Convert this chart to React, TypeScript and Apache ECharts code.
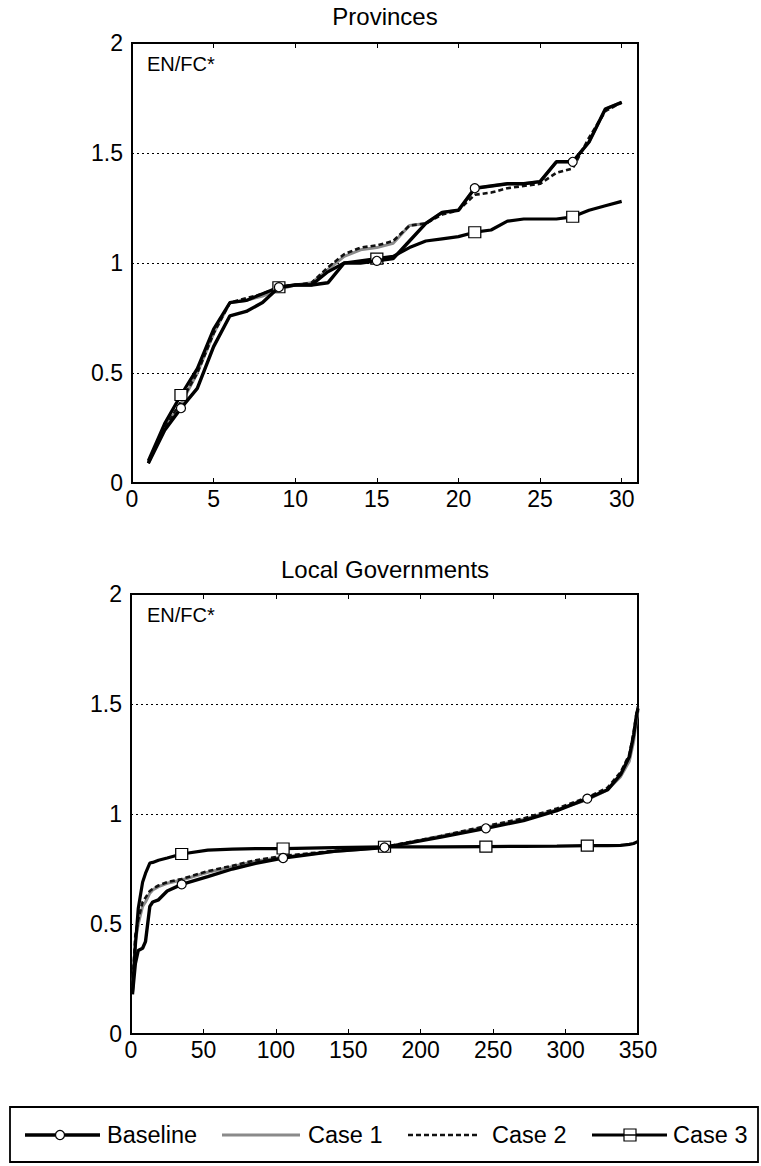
import React, { useEffect, useRef } from "react";
import * as echarts from "echarts";

// ---------- Data ----------
const provX = [1, 2, 3, 4, 5, 6, 7, 8, 9, 10, 11, 12, 13, 14, 15, 16, 17, 18, 19, 20, 21, 22, 23, 24, 25, 26, 27, 28, 29, 30];
const provBaseline = [0.09, 0.24, 0.34, 0.43, 0.62, 0.76, 0.78, 0.82, 0.89, 0.9, 0.9, 0.91, 1.0, 1.0, 1.01, 1.02, 1.1, 1.18, 1.23, 1.24, 1.34, 1.35, 1.36, 1.36, 1.37, 1.46, 1.46, 1.55, 1.7, 1.73];
const provCase1 = [0.09, 0.25, 0.36, 0.5, 0.68, 0.82, 0.83, 0.85, 0.88, 0.9, 0.91, 0.97, 1.03, 1.06, 1.07, 1.09, 1.17, 1.18, 1.23, 1.24, 1.34, 1.35, 1.36, 1.36, 1.37, 1.46, 1.46, 1.55, 1.7, 1.73];
const provCase2 = [0.09, 0.25, 0.37, 0.5, 0.68, 0.82, 0.84, 0.86, 0.89, 0.9, 0.91, 0.98, 1.04, 1.07, 1.08, 1.1, 1.17, 1.18, 1.22, 1.24, 1.31, 1.32, 1.34, 1.35, 1.36, 1.41, 1.43, 1.57, 1.69, 1.73];
const provCase3 = [0.1, 0.27, 0.4, 0.52, 0.7, 0.82, 0.83, 0.86, 0.89, 0.9, 0.9, 0.96, 1.0, 1.01, 1.02, 1.03, 1.07, 1.1, 1.11, 1.12, 1.14, 1.15, 1.19, 1.2, 1.2, 1.2, 1.21, 1.24, 1.26, 1.28];
const provMarkers = [3, 9, 15, 21, 27];

const localX = [1, 3, 5, 8, 10, 13, 15, 19, 25, 35, 53, 70, 86, 105, 140, 175, 214, 245, 271, 294, 315, 329, 338, 344, 347, 349, 350];
const localBaseline = [0.18, 0.32, 0.38, 0.39, 0.42, 0.58, 0.6, 0.61, 0.65, 0.68, 0.715, 0.75, 0.776, 0.8, 0.83, 0.848, 0.895, 0.935, 0.97, 1.015, 1.07, 1.11, 1.18, 1.26, 1.36, 1.45, 1.48];
const localCase1 = [0.2, 0.42, 0.5, 0.58, 0.6, 0.64, 0.655, 0.67, 0.685, 0.7, 0.735, 0.76, 0.785, 0.805, 0.83, 0.848, 0.9, 0.94, 0.975, 1.02, 1.065, 1.11, 1.17, 1.24, 1.33, 1.43, 1.47];
const localCase2 = [0.22, 0.45, 0.52, 0.6, 0.62, 0.65, 0.66, 0.675, 0.69, 0.705, 0.74, 0.765, 0.79, 0.81, 0.832, 0.85, 0.9, 0.945, 0.98, 1.025, 1.075, 1.12, 1.19, 1.27, 1.37, 1.46, 1.49];
const localCase3 = [0.19, 0.4, 0.57, 0.69, 0.73, 0.777, 0.78, 0.79, 0.8, 0.818, 0.836, 0.84, 0.843, 0.843, 0.847, 0.851, 0.851, 0.852, 0.853, 0.854, 0.856, 0.856, 0.857, 0.862, 0.866, 0.872, 0.875];
const localMarkers = [35, 105, 175, 245, 315];

const yTicks = [0, 0.5, 1, 1.5, 2];
const seriesNames = ["Baseline", "Case 1", "Case 2", "Case 3"];
const titles = ["Provinces", "Local Governments"];
const yLabel = "EN/FC*";

// ---------- Helpers ----------
const FONT = "'Liberation Sans', Arial, Helvetica, sans-serif";

function build(xs: number[], ys: number[], marks: number[], symbol: string, size: any) {
  return xs.map((x, i) =>
    marks.indexOf(x) >= 0
      ? { value: [x, ys[i]], symbol, symbolSize: size }
      : { value: [x, ys[i]], symbol: "none" }
  );
}

function makeSeries(xi: number, yi: number, xs: number[], b: number[], c1: number[], c2: number[], c3: number[], marks: number[]) {
  const common = { type: "line", xAxisIndex: xi, yAxisIndex: yi, showSymbol: true, showAllSymbol: true, smooth: false };
  return [
    {
      ...common,
      name: seriesNames[1],
      z: 2,
      data: build(xs, c1, [], "none", 0),
      lineStyle: { color: "#8a8a8a", width: 3 },
      itemStyle: { color: "#8a8a8a" },
    },
    {
      ...common,
      name: seriesNames[2],
      z: 3,
      data: build(xs, c2, [], "none", 0),
      lineStyle: { color: "#111", width: 2.6, type: [5, 3] },
      itemStyle: { color: "#111" },
    },
    {
      ...common,
      name: seriesNames[3],
      z: 4,
      data: build(xs, c3, marks, "rect", [12, 11]),
      lineStyle: { color: "#000", width: 3.2 },
      itemStyle: { color: "#fff", borderColor: "#000", borderWidth: 1.2 },
    },
    {
      ...common,
      name: seriesNames[0],
      z: 5,
      data: build(xs, b, marks, "circle", 9),
      lineStyle: { color: "#000", width: 3.4 },
      itemStyle: { color: "#fff", borderColor: "#000", borderWidth: 1.2 },
    },
  ];
}

function xAxes(grid: number, max: number, interval: number) {
  const base = { type: "value", gridIndex: grid, min: 0, max, interval, splitLine: { show: false } };
  return [
    {
      ...base,
      position: "bottom",
      axisLine: { show: false },
      axisTick: { show: true, inside: true, length: 5, lineStyle: { color: "#000", width: 1 } },
      axisLabel: { show: true, color: "#000", fontSize: 23, fontFamily: FONT, margin: 4, showMaxLabel: max % interval === 0 },
    },
    {
      ...base,
      position: "top",
      axisLine: { show: false },
      axisTick: { show: true, inside: true, length: 5, lineStyle: { color: "#000", width: 1 } },
      axisLabel: { show: false },
    },
  ];
}

function yAxis(grid: number) {
  return {
    type: "value",
    gridIndex: grid,
    min: yTicks[0],
    max: yTicks[yTicks.length - 1],
    interval: 0.5,
    axisLine: { show: false },
    axisTick: { show: false },
    axisLabel: { color: "#000", fontSize: 23, fontFamily: FONT, margin: 9, formatter: (v: number) => String(v) },
    splitLine: { show: true, lineStyle: { color: "#000", width: 1, type: [2, 3] } },
  };
}

export default function App() {
  const ref = useRef<HTMLDivElement>(null);
  useEffect(() => {
    if (!ref.current) return;
    const chart = echarts.init(ref.current, null, { renderer: "svg" });
    const legendY = 1135;
    const textStyle = { fill: "#000", fontSize: 23.5, fontFamily: FONT, verticalAlign: "middle", align: "left" };
    const option: any = {
      animation: false,
      backgroundColor: "#fff",
      grid: [
        { left: 132, top: 43, width: 506, height: 440, show: true, borderColor: "#000", borderWidth: 2, backgroundColor: "transparent" },
        { left: 131, top: 594, width: 507, height: 440, show: true, borderColor: "#000", borderWidth: 2, backgroundColor: "transparent" },
      ],
      xAxis: [...xAxes(0, 31, 5), ...xAxes(1, 350, 50)],
      yAxis: [yAxis(0), yAxis(1)],
      series: [
        ...makeSeries(0, 0, provX, provBaseline, provCase1, provCase2, provCase3, provMarkers),
        ...makeSeries(2, 1, localX, localBaseline, localCase1, localCase2, localCase3, localMarkers),
      ],
      graphic: [
        { type: "text", x: 385, y: 16, style: { text: titles[0], fill: "#000", fontSize: 24, fontFamily: FONT, align: "center", verticalAlign: "middle" } },
        { type: "text", x: 385, y: 569, style: { text: titles[1], fill: "#000", fontSize: 24, fontFamily: FONT, align: "center", verticalAlign: "middle" } },
        { type: "text", x: 147, y: 64, style: { text: yLabel, fill: "#000", fontSize: 20, fontFamily: FONT, align: "left", verticalAlign: "middle" } },
        { type: "text", x: 147, y: 615, style: { text: yLabel, fill: "#000", fontSize: 20, fontFamily: FONT, align: "left", verticalAlign: "middle" } },
        // legend
        { type: "rect", shape: { x: 10, y: 1107, width: 748, height: 55 }, style: { fill: "none", stroke: "#000", lineWidth: 1.8 } },
        { type: "line", shape: { x1: 25, y1: legendY, x2: 100, y2: legendY }, style: { stroke: "#000", lineWidth: 3.4 } },
        { type: "circle", shape: { cx: 60, cy: legendY, r: 4.5 }, style: { fill: "#fff", stroke: "#000", lineWidth: 1.2 } },
        { type: "text", x: 107, y: legendY, style: { ...textStyle, text: seriesNames[0] } },
        { type: "line", shape: { x1: 222, y1: legendY, x2: 300, y2: legendY }, style: { stroke: "#8a8a8a", lineWidth: 3 } },
        { type: "text", x: 308, y: legendY, style: { ...textStyle, text: seriesNames[1] } },
        { type: "line", shape: { x1: 408, y1: legendY, x2: 480, y2: legendY }, style: { stroke: "#111", lineWidth: 2.6, lineDash: [5, 3] } },
        { type: "text", x: 492, y: legendY, style: { ...textStyle, text: seriesNames[2] } },
        { type: "line", shape: { x1: 592, y1: legendY, x2: 667, y2: legendY }, style: { stroke: "#000", lineWidth: 3.2 } },
        { type: "rect", shape: { x: 624, y: legendY - 6, width: 12, height: 12 }, style: { fill: "#fff", stroke: "#000", lineWidth: 1.2 } },
        { type: "line", shape: { x1: 624, y1: legendY, x2: 636, y2: legendY }, style: { stroke: "#000", lineWidth: 1.5 } },
        { type: "text", x: 673, y: legendY, style: { ...textStyle, text: seriesNames[3] } },
      ],
    };
    chart.setOption(option);
    return () => chart.dispose();
  }, []);
  return <div ref={ref} style={{ position: "absolute", left: 0, top: 0, width: 761, height: 1166, background: "#fff" }} />;
}
